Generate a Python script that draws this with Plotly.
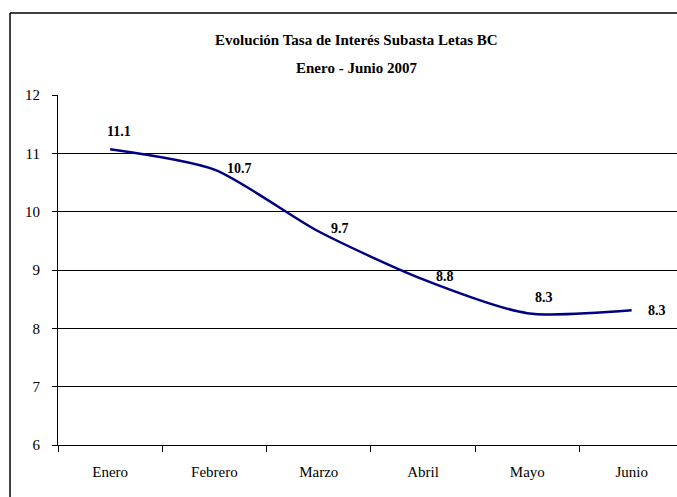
import plotly.graph_objects as go

months = ["Enero", "Febrero", "Marzo", "Abril", "Mayo", "Junio"]
rates = [11.07, 10.72, 9.66, 8.84, 8.26, 8.31]
rate_labels = ["11.1", "10.7", "9.7", "8.8", "8.3", "8.3"]
y_ticks = [6, 7, 8, 9, 10, 11, 12]
title_line1 = "Evolución Tasa de Interés Subasta Letas BC"
title_line2 = "Enero - Junio 2007"

# label offsets in pixels (style)
label_dx = [9, 25, 21, 22, 17, 25]
label_dy = [18, 1, 3, 3, 16, 0]

SERIF = "Liberation Serif"

fig = go.Figure()
fig.add_trace(go.Scatter(
    x=months, y=rates, mode="lines",
    line=dict(color="#000080", width=2.5, shape="spline", smoothing=0.7),
    hoverinfo="skip", showlegend=False,
))

annotations = []
for m, v, t, dx, dy in zip(months, rates, rate_labels, label_dx, label_dy):
    annotations.append(dict(
        x=m, y=v, xref="x", yref="y", text="<b>%s</b>" % t, showarrow=False,
        xanchor="center", yanchor="middle", xshift=dx, yshift=dy,
        font=dict(family=SERIF, size=14, color="black"),
    ))
annotations.append(dict(
    x=0.483, y=1.157, xref="paper", yref="paper", text="<b>%s</b>" % title_line1,
    showarrow=False, xanchor="center", yanchor="middle",
    font=dict(family=SERIF, size=15, color="black"),
))
annotations.append(dict(
    x=0.483, y=1.077, xref="paper", yref="paper", text="<b>%s</b>" % title_line2,
    showarrow=False, xanchor="center", yanchor="middle",
    font=dict(family=SERIF, size=15, color="black"),
))

shapes = [
    dict(type="line", xref="paper", yref="paper", x0=-0.0775, x1=-0.0775, y0=-0.3, y1=1.234,
         line=dict(color="black", width=1.5)),
    dict(type="line", xref="paper", yref="paper", x0=-0.0775, x1=1.2, y0=1.234, y1=1.234,
         line=dict(color="black", width=1.5)),
]

fig.update_layout(
    width=677, height=497, autosize=False,
    margin=dict(l=58, r=0, t=95, b=52, pad=0),
    paper_bgcolor="white", plot_bgcolor="white",
    annotations=annotations, shapes=shapes,
    font=dict(family=SERIF, size=15, color="black"),
)
fig.update_xaxes(
    type="category", range=[-0.5, 5.435], tickson="boundaries",
    ticks="outside", ticklen=6, tickcolor="black", tickwidth=1,
    showline=True, linecolor="black", linewidth=1,
    showgrid=False, zeroline=False, ticklabelstandoff=13,
    tickfont=dict(family=SERIF, size=15, color="black"),
)
fig.update_yaxes(
    range=[6, 12], tickvals=y_ticks, ticks="outside", ticklen=5,
    tickcolor="black", tickwidth=1,
    showline=True, linecolor="black", linewidth=1,
    showgrid=True, gridcolor="black", gridwidth=1, zeroline=False,
    ticklabelstandoff=9,
    tickfont=dict(family=SERIF, size=15, color="black"),
)

fig.write_html(
    "out.html",
    config={"displayModeBar": False},
    post_script=(
        "document.body.style.margin='0';"
        "document.body.style.overflow='hidden';"
        "document.documentElement.style.overflow='hidden';"
    ),
)
